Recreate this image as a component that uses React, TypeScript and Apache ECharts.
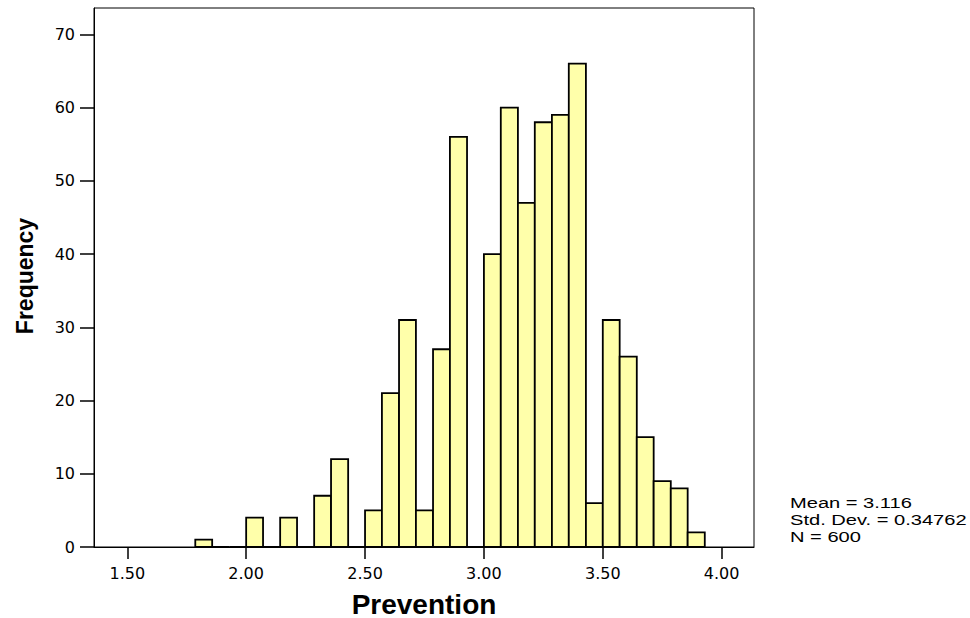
import React, { useEffect, useRef } from "react";
import * as echarts from "echarts";

const binEdges = [
  1.786, 1.857, 1.929, 2.0, 2.071, 2.143, 2.214, 2.286, 2.357, 2.429, 2.5,
  2.571, 2.643, 2.714, 2.786, 2.857, 2.929, 3.0, 3.071, 3.143, 3.214, 3.286,
  3.357, 3.429, 3.5, 3.571, 3.643, 3.714, 3.786, 3.857, 3.929,
];
const counts = [
  1, 0, 0, 4, 0, 4, 0, 7, 12, 0, 5, 21, 31, 5, 27, 56, 0, 40, 60, 47, 58, 59,
  66, 6, 31, 26, 15, 9, 8, 2,
];
const xTicks = [1.5, 2.0, 2.5, 3.0, 3.5, 4.0];
const yTicks = [0, 10, 20, 30, 40, 50, 60, 70];
const statsLines = ["Mean = 3.116", "Std. Dev. = 0.34762", "N = 600"];
const xTitle = "Prevention";
const yTitle = "Frequency";

const FONT = "'Liberation Sans', Arial, Helvetica, sans-serif";
const TICK_FONT = "'DejaVu Sans', Verdana, sans-serif";

export default function App() {
  const ref = useRef<HTMLDivElement>(null);
  useEffect(() => {
    if (!ref.current) return;
    const chart = echarts.init(ref.current, null, { renderer: "svg" });
    const data = counts.map((c, i) => [binEdges[i], binEdges[i + 1], c]);
    chart.setOption({
      animation: false,
      backgroundColor: "#ffffff",
      textStyle: { fontFamily: FONT },
      grid: {
        left: 94,
        top: 8,
        width: 660,
        height: 539,
        show: true,
        borderColor: "#000",
        borderWidth: 1,
        backgroundColor: "transparent",
      },
      xAxis: {
        type: "value",
        min: 1.36,
        max: 4.136,
        splitLine: { show: false },
        axisLine: { show: true, lineStyle: { color: "#000", width: 1 } },
        axisTick: {
          show: true,
          customValues: xTicks,
          length: 12,
          lineStyle: { color: "#000", width: 1.5 },
        },
        axisLabel: {
          customValues: xTicks,
          formatter: (v: number) => v.toFixed(2),
          fontSize: 16,
          color: "#000",
          margin: 18,
          fontFamily: TICK_FONT,
        },
      },
      yAxis: {
        type: "value",
        min: 0,
        max: 73.6,
        splitLine: { show: false },
        axisLine: { show: true, lineStyle: { color: "#000", width: 1 } },
        axisTick: {
          show: true,
          customValues: yTicks,
          length: 14,
          lineStyle: { color: "#000", width: 1.5 },
        },
        axisLabel: {
          customValues: yTicks,
          fontSize: 16,
          color: "#000",
          margin: 19,
          fontFamily: TICK_FONT,
        },
      },
      series: [
        {
          type: "custom",
          data,
          encode: { x: [0, 1], y: 2 },
          renderItem: (params: any, api: any) => {
            const p0 = api.coord([api.value(0), api.value(2)]);
            const p1 = api.coord([api.value(1), 0]);
            return {
              type: "rect",
              shape: {
                x: p0[0],
                y: p0[1],
                width: p1[0] - p0[0],
                height: p1[1] - p0[1],
              },
              style: { fill: "#ffffaa", stroke: "#000", lineWidth: 1.8 },
            };
          },
        },
      ],
      graphic: [
        {
          type: "text",
          x: 424,
          y: 604,
          style: {
            text: xTitle,
            font: `bold 28px ${FONT}`,
            fill: "#000",
            align: "center",
            verticalAlign: "middle",
          },
        },
        {
          type: "text",
          x: 25,
          y: 276,
          rotation: Math.PI / 2,
          style: {
            text: yTitle,
            font: `bold 23px ${FONT}`,
            fill: "#000",
            align: "center",
            verticalAlign: "middle",
          },
        },
        ...statsLines.map((t, i) => ({
          type: "text",
          x: 790,
          y: 503 + i * 17,
          scaleX: 1.34,
          style: {
            text: t,
            font: `15px ${FONT}`,
            fill: "#000",
            align: "left",
            verticalAlign: "middle",
          },
        })),
      ],
    });
    return () => chart.dispose();
  }, []);
  return (
    <div
      ref={ref}
      style={{ position: "absolute", left: 0, top: 0, width: 970, height: 618 }}
    />
  );
}
